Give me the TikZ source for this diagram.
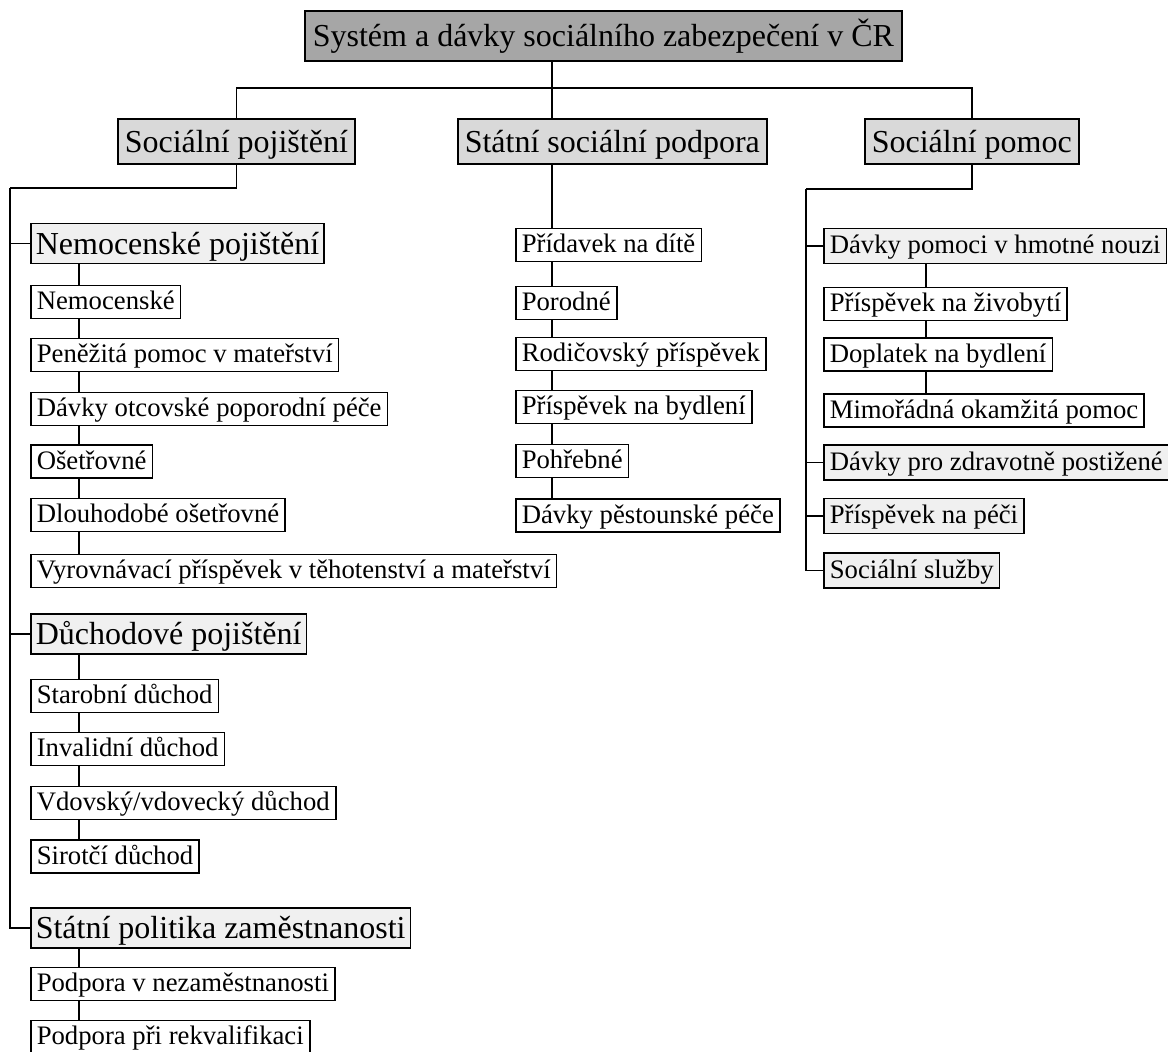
\documentclass[tikz,border=0pt]{standalone}
\usepackage{fontspec}
\setmainfont{Liberation Serif}

\definecolor{rootgray}{RGB}{166,166,166}
\definecolor{maingray}{RGB}{217,217,217}
\definecolor{groupgray}{RGB}{240,240,240}

\begin{document}
\begin{tikzpicture}[x=1pt,y=-1pt,
  box/.style={draw=black,line width=1.6pt,anchor=west,inner ysep=0pt},
  bigtext/.style={font=\fontsize{32}{36}\selectfont,text height=26pt,text depth=5pt},
  smalltext/.style={font=\fontsize{26.7}{30}\selectfont,text height=20pt,text depth=5pt},
  rootbox/.style={box,bigtext,fill=rootgray,inner xsep=8pt,minimum height=50pt},
  mainbox/.style={box,bigtext,fill=maingray,inner xsep=7pt,minimum height=45pt},
  groupbox/.style={box,bigtext,fill=groupgray,inner xsep=5pt,minimum height=40pt},
  subgroupbox/.style={box,smalltext,fill=groupgray,inner xsep=6pt,minimum height=35pt},
  leafbox/.style={box,smalltext,fill=white,inner xsep=6pt,minimum height=33pt},
  link/.style={line width=1.5pt}]

\useasboundingbox (0,0) rectangle (1168,1052);

% top levels
\node[rootbox] (root) at (304,36) {Systém a dávky sociálního zabezpečení v ČR};
\node[mainbox] (poj) at (117,141.5) {Sociální pojištění};
\node[mainbox] (ssp) at (457,141.5) {Státní sociální podpora};
\node[mainbox] (pomoc) at (864,141.5) {Sociální pomoc};

\coordinate (trunk) at (552,88);
\draw[link] (poj.north) |- (trunk) -| (pomoc.north);
\draw[link] (trunk |- root.south) -- (trunk |- ssp.north);

% socialni pojisteni
\coordinate (lspine) at (10,188);
\draw[link] (poj.south) |- (lspine);
\node[groupbox] (nem) at (30,243.5) {Nemocenské pojištění};
\node[groupbox] (duch) at (30,634) {Důchodové pojištění};
\node[groupbox] (zam) at (30,928) {Státní politika zaměstnanosti};
\draw[link] (lspine) |- (zam.west);
\foreach \g in {nem,duch} \draw[link] (lspine |- \g.west) -- (\g.west);

\foreach \y/\txt [count=\i] in {302/Nemocenské, 355/Peněžitá pomoc v mateřství,
    409/Dávky otcovské poporodní péče, 461.5/Ošetřovné, 515/Dlouhodobé ošetřovné,
    571/Vyrovnávací příspěvek v těhotenství a mateřství}
  \node[leafbox] (nem\i) at (30,\y) {\txt};
\foreach \y/\txt [count=\i] in {696/Starobní důchod, 749/Invalidní důchod,
    803/{Vdovský/vdovecký důchod}, 856.5/Sirotčí důchod}
  \node[leafbox] (duch\i) at (30,\y) {\txt};
\foreach \y/\txt [count=\i] in {984/Podpora v nezaměstnanosti, 1037/Podpora při rekvalifikaci}
  \node[leafbox] (zam\i) at (30,\y) {\txt};

\coordinate (lx) at (79,0);
\foreach \a/\b in {nem/nem1,nem1/nem2,nem2/nem3,nem3/nem4,nem4/nem5,nem5/nem6,
    duch/duch1,duch1/duch2,duch2/duch3,duch3/duch4,zam/zam1,zam1/zam2}
  \draw[link] (lx |- \a.south) -- (lx |- \b.north);

% statni socialni podpora
\foreach \y/\txt [count=\i] in {245/Přídavek na dítě, 303/Porodné, 354/Rodičovský příspěvek,
    407/Příspěvek na bydlení, 461/Pohřebné, 515.5/Dávky pěstounské péče}
  \node[leafbox] (ssp\i) at (515,\y) {\txt};
\foreach \a/\b in {ssp/ssp1,ssp1/ssp2,ssp2/ssp3,ssp3/ssp4,ssp4/ssp5,ssp5/ssp6}
  \draw[link] (trunk |- \a.south) -- (trunk |- \b.north);

% socialni pomoc
\coordinate (rspine) at (806,189);
\draw[link] (pomoc.south) |- (rspine);
\node[subgroupbox] (hn) at (823,246) {Dávky pomoci v hmotné nouzi};
\node[subgroupbox] (zp) at (823,462.5) {Dávky pro zdravotně postižené};
\node[subgroupbox] (pece) at (823,516) {Příspěvek na péči};
\node[subgroupbox] (sluz) at (823,570.5) {Sociální služby};
\draw[link] (rspine) |- (sluz.west);
\foreach \g in {hn,zp,pece} \draw[link] (rspine |- \g.west) -- (\g.west);

\foreach \y/\txt [count=\i] in {304/Příspěvek na živobytí\ , 354.5/Doplatek na bydlení,
    410.5/Mimořádná okamžitá pomoc}
  \node[leafbox] (hn\i) at (823,\y) {\txt};
\coordinate (rx) at (926,0);
\foreach \a/\b in {hn/hn1,hn1/hn2,hn2/hn3}
  \draw[link] (rx |- \a.south) -- (rx |- \b.north);
\end{tikzpicture}
\end{document}
